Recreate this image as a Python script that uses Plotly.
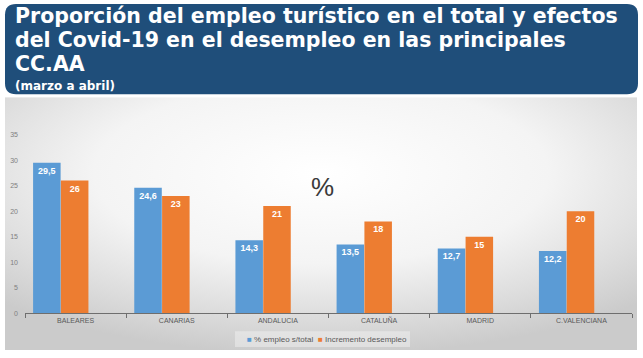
import base64
import plotly.graph_objects as go

categories = ["BALEARES", "CANARIAS", "ANDALUCIA", "CATALUÑA", "MADRID", "C.VALENCIANA"]
empleo_total = [29.5, 24.6, 14.3, 13.5, 12.7, 12.2]
incremento_desempleo = [26, 23, 21, 18, 15, 20]
series_names = ["% empleo s/total", "Incremento desempleo"]
y_ticks = [0, 5, 10, 15, 20, 25, 30, 35]

title_lines = [
    "Proporción del empleo turístico en el total y efectos",
    "del Covid-19 en el desempleo en las principales",
    "CC.AA",
]
subtitle = "(marzo a abril)"

W, H = 643, 358


def px(x):
    return x / W


def py(y):
    return 1 - y / H


def fmt(v):
    return ("%g" % v).replace(".", ",")


BLUE = "#5b9bd5"
ORANGE = "#ed7d31"
NAVY = "#1f4e7a"
colors = [BLUE, ORANGE]

fig = go.Figure()
for name, vals, col, off in zip(series_names, [empleo_total, incremento_desempleo], colors, [-0.42, -0.145]):
    fig.add_trace(go.Bar(
        x=categories, y=vals, name=name,
        marker=dict(color=col, line=dict(width=0)),
        text=[fmt(v) for v in vals], textposition="inside",
        insidetextanchor="end", textangle=0,
        textfont=dict(color="white", size=9, family="Liberation Sans", weight="bold"),
        width=0.272, offset=off, showlegend=False,
    ))

# gradient background for chart panel
svg = (
    '<svg xmlns="http://www.w3.org/2000/svg" width="632" height="255" viewBox="0 0 632 255" preserveAspectRatio="none">'
    '<defs><radialGradient id="g" cx="0.5" cy="0.3" r="0.72" gradientUnits="objectBoundingBox">'
    '<stop offset="0" stop-color="#ffffff"/>'
    '<stop offset="0.5" stop-color="#f4f4f4"/>'
    '<stop offset="0.8" stop-color="#dcdcdc"/>'
    '<stop offset="1" stop-color="#cbcbcb"/>'
    '</radialGradient></defs>'
    '<rect width="632" height="255" fill="url(#g)"/></svg>'
)
src = "data:image/svg+xml;base64," + base64.b64encode(svg.encode()).decode()

fig.add_layout_image(dict(
    source=src, xref="paper", yref="paper",
    x=px(5), y=py(98), sizex=px(637) - px(5), sizey=py(98) - py(353),
    xanchor="left", yanchor="top", sizing="stretch", layer="below",
))

# title box with rounded corners
x0, x1, y0, y1, r = 5, 638, 4, 95, 11
path = (
    f"M {px(x0 + r)},{py(y0)} L {px(x1 - r)},{py(y0)} "
    f"Q {px(x1)},{py(y0)} {px(x1)},{py(y0 + r)} "
    f"L {px(x1)},{py(y1 - r)} Q {px(x1)},{py(y1)} {px(x1 - r)},{py(y1)} "
    f"L {px(x0 + r)},{py(y1)} Q {px(x0)},{py(y1)} {px(x0)},{py(y1 - r)} "
    f"L {px(x0)},{py(y0 + r)} Q {px(x0)},{py(y0)} {px(x0 + r)},{py(y0)} Z"
)
fig.add_shape(type="path", path=path, xref="paper", yref="paper",
              fillcolor=NAVY, line=dict(width=0), layer="below")

# legend panel
fig.add_shape(type="rect", xref="paper", yref="paper",
              x0=px(235), x1=px(410), y0=py(350), y1=py(334),
              fillcolor="rgba(255,255,255,0.35)", line=dict(width=0), layer="below")

annotations = []
for line, yc in zip(title_lines, [16, 40, 65]):
    annotations.append(dict(
        text=line, xref="paper", yref="paper", x=px(13), y=py(yc),
        xanchor="left", yanchor="middle", showarrow=False,
        font=dict(family="DejaVu Sans", size=20.5, color="white", weight="bold"),
    ))
annotations.append(dict(
    text=subtitle, xref="paper", yref="paper", x=px(13), y=py(87),
    xanchor="left", yanchor="middle", showarrow=False,
    font=dict(family="DejaVu Sans", size=12, color="white", weight="bold"),
))
annotations.append(dict(
    text="%", xref="paper", yref="paper", x=px(322), y=py(189),
    xanchor="center", yanchor="middle", showarrow=False,
    font=dict(family="Liberation Sans", size=26, color="#3a3a3a"),
))
# legend entries
for name, col, xl in zip(series_names, colors, [245, 316]):
    annotations.append(dict(
        text=f"<span style='color:{col}'>■</span> {name}",
        xref="paper", yref="paper", x=px(xl), y=py(342),
        xanchor="left", yanchor="middle", showarrow=False,
        font=dict(family="Liberation Sans", size=8, color="#595959"),
    ))

fig.update_layout(
    width=W, height=H,
    margin=dict(l=0, r=0, t=0, b=0),
    paper_bgcolor="white", plot_bgcolor="rgba(0,0,0,0)",
    barmode="group",
    showlegend=False,
    annotations=annotations,
    xaxis=dict(
        domain=[px(25), px(632)], range=[-0.5, 5.5], type="category",
        showline=True, linecolor="#6e6e6e", linewidth=1,
        ticks="outside", tickson="boundaries", ticklen=4, tickcolor="#6e6e6e",
        tickfont=dict(family="Liberation Sans", size=7, color="#595959"),
        showgrid=False, fixedrange=True,
    ),
    yaxis=dict(
        domain=[py(316), py(110)], range=[0, 40],
        tickvals=y_ticks, showline=False, showgrid=False, zeroline=False,
        tickfont=dict(family="Liberation Sans", size=7, color="#808080"),
        ticklabelstandoff=6, fixedrange=True,
    ),
)

fig.write_html(
    "out.html",
    config={"displayModeBar": False},
    post_script="document.body.style.margin='0px';document.body.style.overflow='hidden';",
)
